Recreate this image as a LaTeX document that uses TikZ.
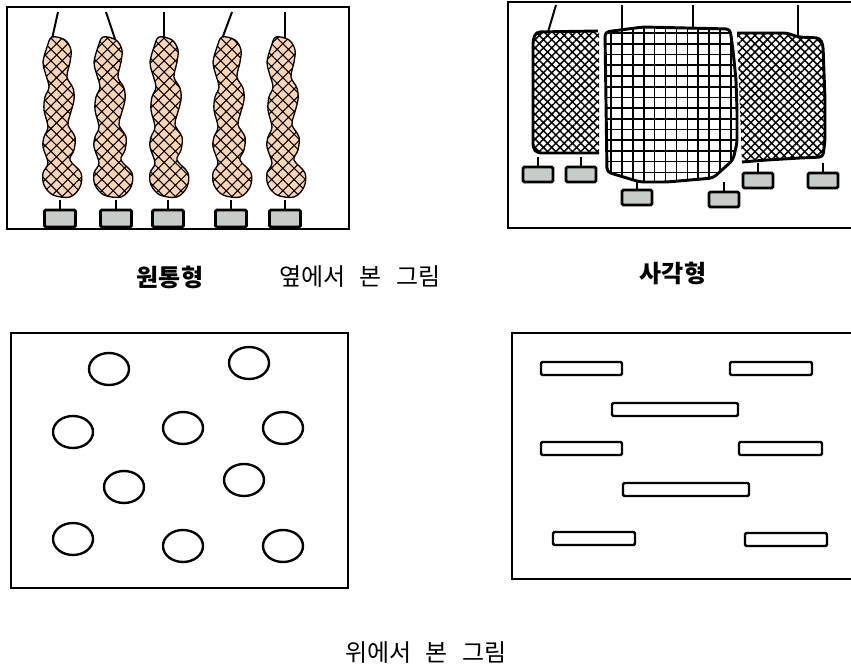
\documentclass[tikz,border=0pt]{standalone}
\usepackage{fontspec}
\newfontfamily\krfont[WordSpace=2.6]{Noto Sans CJK KR}
\usetikzlibrary{patterns.meta}
\definecolor{peach}{RGB}{252,213,180}
\definecolor{tagfill}{RGB}{200,204,200}
\tikzset{
  frame/.style={draw=black, line width=1.5pt},
  cord/.style={draw=black, line width=1.5pt},
  blob/.style={draw=black, line width=1pt, preaction={fill=peach},
    pattern={Hatch[angle=45, distance=6pt, line width=0.8pt]}},
  mesh/.style={pattern={Hatch[angle=45, distance=4.4pt, line width=1.1pt]}},
  rim/.style={draw=black, line width=2.2pt, line join=round, rounded corners=3pt},
  gridline/.style={draw=black, line width=1.2pt},
  tag/.style={draw=black, line width=2.2pt, fill=tagfill, rounded corners=1pt},
  pellet/.style={draw=black, line width=1.8pt},
  bar/.style={draw=black, line width=1.8pt, fill=white, rounded corners=1pt},
  lbl/.style={font=\krfont\fontsize{18}{21}\selectfont, inner sep=0pt},
  boldlbl/.style={font=\krfont\bfseries\fontsize{18}{21}\selectfont, inner sep=0pt},
  pics/sausage/.style={code={
    \path[blob] plot[smooth cycle, tension=0.55] coordinates {
      (-9,0) (4,3) (10,13) (9,25) (6,40) (12,51) (13,63) (9,78) (7,88)
      (14,100) (13,113) (9,123) (20,136) (19,150) (9,160) (-8,158)
      (-17,148) (-18,136) (-13,126) (-18,110) (-17,100) (-13,90)
      (-17,73) (-16,60) (-12,50) (-16,35) (-18,25) (-14,10)};
  }}
}

\begin{document}
\begin{tikzpicture}[x=0.75pt, y=-0.75pt]
  \useasboundingbox (0,0) rectangle (851,666);
  \clip (0,0) rectangle (851,666);

  % side view, cylinders
  \draw[frame] (7,7) rectangle (349,229);
  \foreach \cx/\sx/\ex in {61/58/52, 112/106/115, 168/164/164, 231/232/222, 285/285/285} {
    \draw[cord] (\sx,12) -- (\ex,39);
    \pic at (\cx,37) {sausage};
  }
  \foreach \tx in {60,116,168,231,285} {
    \draw[cord] (\tx,200) -- (\tx,210);
    \draw[tag] (\tx-15.5,210) rectangle (\tx+15.5,227);
  }

  % side view, squares
  \draw[frame] (508,2) rectangle (860,228);
  \draw[cord] (556,5) -- (548,32);
  \draw[cord] (622,5) -- (622,29);
  \draw[cord] (693,5) -- (693,28);
  \draw[cord] (798,5) -- (798,36);

  \path[mesh] (536,32) -- (599,31) -- (599,153) -- (537,153) -- (533,148) -- (533,40) -- cycle;
  \draw[rim] (598,31) -- (536,32) -- (533,40) -- (533,148) -- (537,153) -- (599,153);

  \path[mesh] (737,33) -- (787,33) -- (798,37) -- (820,38) -- (823,45) -- (825,100)
    -- (825,140) -- (823,157) -- (800,158) -- (767,160) -- (742,162) -- cycle;
  \draw[rim] (737,33) -- (787,33) -- (798,37) -- (820,38) -- (823,45) -- (825,100)
    -- (825,140) -- (823,157) -- (800,158) -- (767,160) -- (742,162);

  \begin{scope}
    \clip (605,32) -- (643,27) -- (730,29) -- (733,50) -- (736,80) -- (737,110)
      -- (737,143) -- (733,160) -- (713,178) -- (667,182) -- (640,182) -- (607,172) -- cycle;
    \fill[white] (600,20) rectangle (745,190);
    \foreach \gx in {611,621.9,...,745} \draw[gridline] (\gx,20) -- (\gx,190);
    \foreach \gy in {33.3,44,...,190} \draw[gridline] (600,\gy) -- (745,\gy);
    \draw[gridline] (600,65) -- (745,65);
  \end{scope}
  \draw[rim] (605,32) -- (643,27) -- (730,29) -- (733,50) -- (736,80) -- (737,110)
    -- (737,143) -- (733,160) -- (713,178) -- (667,182) -- (640,182) -- (607,172) -- cycle;

  \foreach \tx/\ty in {538/167, 581/167, 637/190, 724/192, 758/173, 823/173} {
    \draw[cord] (\tx,\ty-10) -- (\tx,\ty);
    \draw[tag] (\tx-15,\ty) rectangle (\tx+15,\ty+15);
  }

  \node[boldlbl] (cyl) at (170,277) {원통형};
  \node[lbl] (side) at (360,277) {옆에서 본 그림};
  \node[boldlbl] (sqr) at (673,273) {사각형};

  % top view, cylinders
  \draw[frame] (11,333) rectangle (348,588);
  \foreach \px/\py in {109/369, 249/363, 73/432, 183/428, 283/428,
                       124/487, 244/480, 73/539, 183/546, 283/546}
    \draw[pellet] (\px,\py) ellipse [x radius=15pt, y radius=12pt];

  % top view, squares
  \draw[frame] (512,333) rectangle (860,579);
  \foreach \ax/\bx/\by in {541/622/362, 730/812/362, 612/738/403, 541/622/442,
                           739/822/442, 623/749/483, 553/635/532, 745/827/533}
    \draw[bar] (\ax,\by) rectangle (\bx,\by+13);

  \node[lbl] (top) at (426,653) {위에서 본 그림};
\end{tikzpicture}
\end{document}
